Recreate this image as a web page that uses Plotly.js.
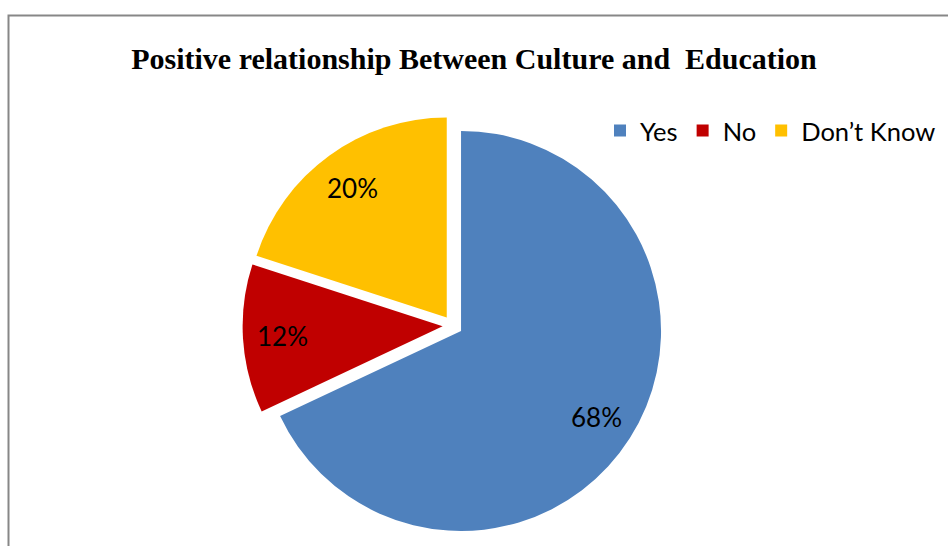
<!DOCTYPE html>
<html>
<head>
<meta charset="utf-8">
<script src="https://cdn.plot.ly/plotly-3.0.1.min.js"></script>
<style>html,body{margin:0;padding:0;background:#fff;}#chart{width:948px;height:546px;}</style>
</head>
<body>
<div id="chart"></div>
<script>
const categories = ["Yes", "No", "Don\u2019t Know"];
const percentValues = [68, 12, 20];
const sliceColors = ["#4F81BD", "#C00000", "#FFC000"];
const chartTitle = "Positive relationship Between Culture and  Education";

// layout constants (pixels)
const W = 948, H = 546;
const pieCx = 452.6, pieCy = 325.6, pieR = 200, pullFrac = 0.05;
const labelFrac = 0.80;

const trace = {
  type: "pie",
  labels: categories,
  values: percentValues,
  marker: {colors: sliceColors, line: {width: 0}},
  sort: false,
  direction: "clockwise",
  rotation: 0,
  pull: categories.map(() => pullFrac),
  textinfo: "none",
  domain: {
    x: [(pieCx - pieR * (1 + pullFrac)) / W, (pieCx + pieR * (1 + pullFrac)) / W],
    y: [1 - (pieCy + pieR * (1 + pullFrac)) / H, 1 - (pieCy - pieR * (1 + pullFrac)) / H]
  },
  hoverinfo: "label+percent"
};

// percentage labels placed along each slice's bisector (computed from the data)
const total = percentValues.reduce((a, b) => a + b, 0);
let cum = 0;
const labelAnnotations = percentValues.map((v) => {
  const mid = (cum + v / 2) / total;
  cum += v;
  const ang = mid * 2 * Math.PI; // clockwise from 12 o'clock
  const dx = Math.sin(ang), dy = -Math.cos(ang);
  const dist = pieR * (pullFrac + labelFrac);
  const px = pieCx + dist * dx, py = pieCy + dist * dy;
  return {
    xref: "paper", yref: "paper",
    x: px / W, y: 1 - py / H,
    xanchor: "center", yanchor: "middle",
    showarrow: false,
    text: Math.round(v / total * 100) + "%",
    font: {family: "Lato, 'Noto Sans', sans-serif", size: 26, color: "#000000"}
  };
});

const layout = {
  width: W, height: H,
  margin: {l: 0, r: 0, t: 0, b: 0},
  paper_bgcolor: "#ffffff",
  plot_bgcolor: "#ffffff",
  title: {
    text: "<b>" + chartTitle + "</b>",
    font: {family: "'Liberation Serif', 'Times New Roman', serif", size: 30, color: "#000000"},
    x: 0.5, xanchor: "center", y: 1 - 58 / H, yanchor: "middle"
  },
  showlegend: true,
  legend: {
    orientation: "h",
    x: 600 / W, xanchor: "left",
    y: 1 - 131 / H, yanchor: "middle",
    font: {family: "Lato, 'Noto Sans', sans-serif", size: 25.5, color: "#000000"},
    traceorder: "normal"
  },
  annotations: labelAnnotations,
  shapes: [{
    type: "rect", xref: "paper", yref: "paper",
    x0: 8.5 / W, x1: 1.02, y0: -0.05, y1: 1 - 15.5 / H,
    line: {color: "#878787", width: 2}, fillcolor: "rgba(0,0,0,0)", layer: "below"
  }]
};

Plotly.newPlot("chart", [trace], layout, {displayModeBar: false, staticPlot: true});
</script>
</body>
</html>
